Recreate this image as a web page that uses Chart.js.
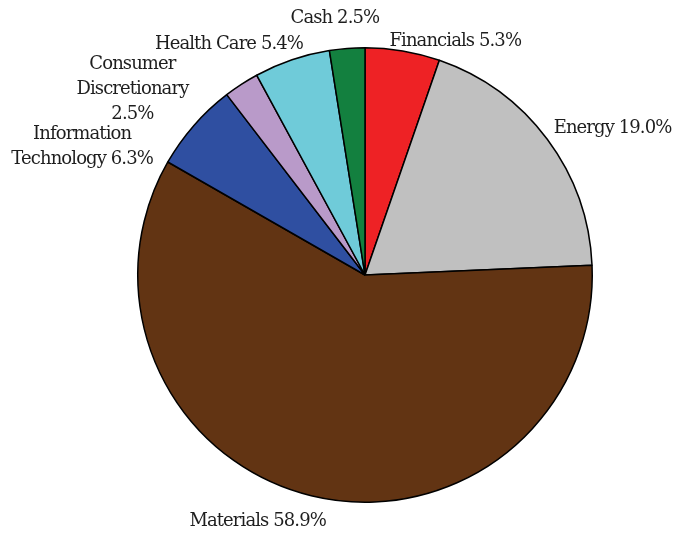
<!DOCTYPE html>
<html>
<head>
<meta charset="utf-8">
<script src="https://cdn.jsdelivr.net/npm/chart.js@4.4.1/dist/chart.umd.min.js"></script>
<style>
    html, body { margin: 0; padding: 0; background: #fff; }
    #wrap { width: 676px; height: 533px; }
</style>
</head>
<body>
<div id="wrap"><canvas id="sectorChart" width="676" height="533"></canvas></div>
<script>
// Sector allocation, clockwise from 12 o'clock
const categories = ["Financials", "Energy", "Materials", "Information Technology", "Consumer Discretionary", "Health Care", "Cash"];
const shares = [5.3, 19.0, 58.9, 6.3, 2.5, 5.4, 2.5];
const sliceColors = ["#ee2225", "#c0c0c0", "#623413", "#2f4fa1", "#b99ac9", "#6fcbd9", "#13803f"];

// nudges for the outside labels (px), keeps them where the original put them
const labelNudge = [[40, 13], [10, 2], [-35, 4], [-51, 44], [-73, 45], [-36, 6], [-8, -8]];

const FONT = "18px 'DejaVu Serif'";
const LINE_H = 25;
const WRAP_W = 151;

function wrapText(ctx, text) {
    const words = text.split(" ");
    const lines = [];
    let cur = "";
    words.forEach((w) => {
        const test = cur ? cur + " " + w : w;
        if (cur && ctx.measureText(test).width > WRAP_W) {
            lines.push(cur);
            cur = w;
        } else {
            cur = test;
        }
    });
    lines.push(cur);
    return lines;
}

const outsideLabels = {
    id: "outsideLabels",
    afterDatasetsDraw(chart) {
        const ctx = chart.ctx;
        const arcs = chart.getDatasetMeta(0).data;
        ctx.save();
        ctx.font = FONT;
        ctx.letterSpacing = "-0.9px";
        ctx.fillStyle = "#1e1e1e";
        ctx.textAlign = "center";
        ctx.textBaseline = "middle";
        arcs.forEach((arc, i) => {
            const text = categories[i] + " " + shares[i].toFixed(1) + "%";
            const lines = wrapText(ctx, text);
            const w = Math.max(...lines.map((l) => ctx.measureText(l).width));
            const h = lines.length * LINE_H;
            const mid = (arc.startAngle + arc.endAngle) / 2;
            const r = arc.outerRadius + 10;
            const px = arc.x + Math.cos(mid) * r;
            const py = arc.y + Math.sin(mid) * r;
            const cx = px + Math.cos(mid) * w / 2 + labelNudge[i][0];
            const cy = py + Math.sin(mid) * h / 2 + labelNudge[i][1];
            lines.forEach((l, k) => {
                ctx.fillText(l, cx, cy - h / 2 + LINE_H / 2 + k * LINE_H);
            });
        });
        ctx.restore();
    },
};

new Chart(document.getElementById("sectorChart"), {
    type: "pie",
    data: {
        labels: categories,
        datasets: [
            {
                data: shares,
                backgroundColor: sliceColors,
                borderColor: "#000",
                borderWidth: 1.5,
                borderAlign: "center",
            },
        ],
    },
    options: {
        responsive: false,
        animation: false,
        layout: {
            padding: { top: 47, bottom: 30, left: 137, right: 83 },
        },
        plugins: {
            legend: { display: false },
            tooltip: { enabled: false },
        },
    },
    plugins: [outsideLabels],
});
</script>
</body>
</html>
